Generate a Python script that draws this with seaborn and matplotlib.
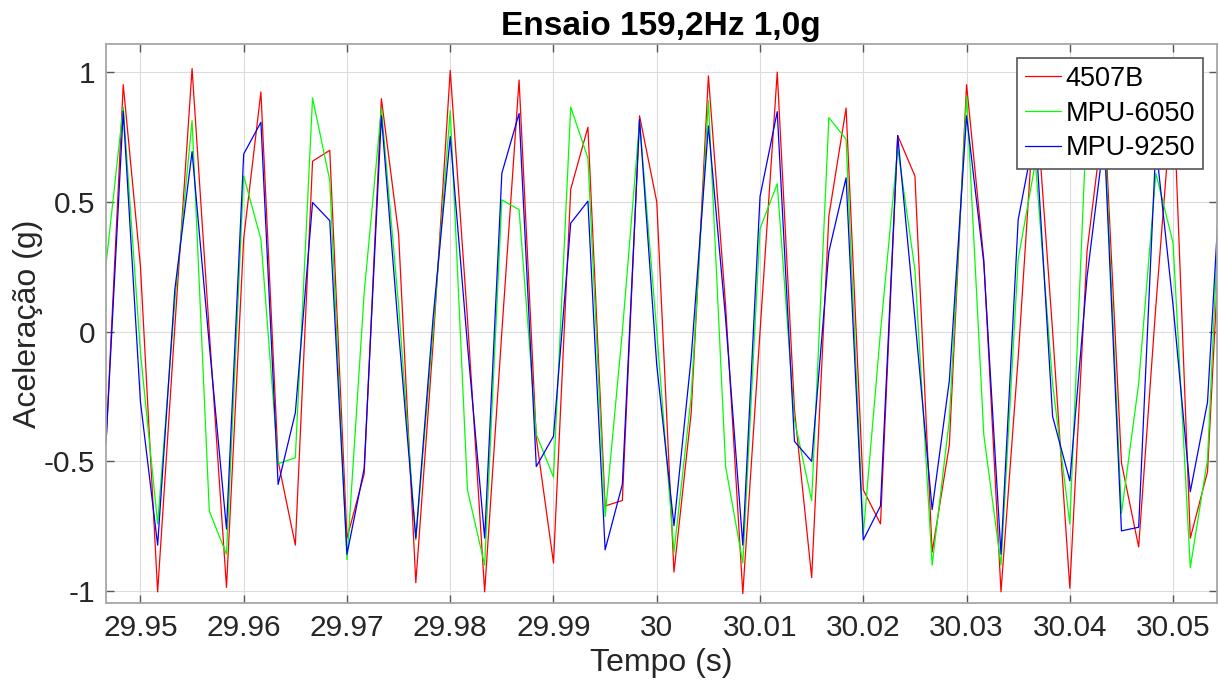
import numpy as np
import pandas as pd
import matplotlib
matplotlib.use("Agg")
import matplotlib.pyplot as plt
import seaborn as sns
from matplotlib.ticker import FuncFormatter

# Sample instants: acquisition at 600 Hz, sample numbers 17968..18033
sample_index = list(range(17968, 18034))
sample_rate = 600.0

acc_4507b = [
    -0.43, 0.952, 0.252, -1.003, 0.02, 1.014, 0.0, -0.986, 0.36, 0.924,
    -0.50, -0.823, 0.657, 0.699, -0.796, -0.548, 0.898, 0.377, -0.968, -0.05,
    1.007, 0.05, -1.003, 0.0, 0.97, -0.41, -0.892, 0.549, 0.788, -0.672,
    -0.651, 0.832, 0.5, -0.927, -0.313, 0.986, 0.1, -1.01, 0.0, 1.0,
    -0.3, -0.948, 0.446, 0.862, -0.61, -0.741, 0.756, 0.6, -0.85, -0.437,
    0.952, 0.28, -1.003, -0.1, 0.93, 0.0, -0.989, 0.31, 0.85, -0.506,
    -0.83, 0.1, 0.95, -0.796, -0.541, 0.75,
]
acc_mpu6050 = [
    0.259, 0.866, -0.08, -0.741, 0.12, 0.814, -0.692, -0.858, 0.6, 0.356,
    -0.509, -0.486, 0.901, 0.583, -0.879, 0.15, 0.86, 0.1, -0.803, 0.0,
    0.852, -0.61, -0.9, 0.508, 0.47, -0.396, -0.561, 0.866, 0.669, -0.713,
    0.0, 0.811, 0.0, -0.851, -0.25, 0.89, -0.52, -0.892, 0.397, 0.57,
    -0.34, -0.651, 0.825, 0.742, -0.78, 0.0, 0.708, 0.239, -0.9, -0.34,
    0.908, -0.396, -0.9, 0.28, 0.652, -0.2, -0.741, 0.85, 0.8, -0.7,
    -0.2, 0.61, 0.342, -0.909, -0.492, 0.95,
]
acc_mpu9250 = [
    -0.43, 0.85, -0.27, -0.823, 0.163, 0.694, -0.05, -0.761, 0.685, 0.807,
    -0.589, -0.313, 0.498, 0.428, -0.858, -0.527, 0.832, 0.0, -0.796, 0.05,
    0.752, -0.05, -0.796, 0.611, 0.841, -0.52, -0.403, 0.418, 0.503, -0.841,
    -0.589, 0.818, -0.13, -0.748, -0.1, 0.793, 0.05, -0.823, 0.521, 0.848,
    -0.423, -0.5, 0.308, 0.593, -0.803, -0.672, 0.756, 0.05, -0.686, -0.189,
    0.832, 0.266, -0.858, 0.432, 0.78, -0.327, -0.575, 0.21, 0.75, -0.768,
    -0.754, 0.72, 0.1, -0.617, -0.272, 0.9,
]

sensors = ["4507B", "MPU-6050", "MPU-9250"]
colors = {"4507B": "#ff0000", "MPU-6050": "#00ff00", "MPU-9250": "#0000ff"}

x_ticks = [29.95, 29.96, 29.97, 29.98, 29.99, 30.0, 30.01, 30.02, 30.03, 30.04, 30.05]
y_ticks = [-1, -0.5, 0, 0.5, 1]

t = [n / sample_rate for n in sample_index]
frames = []
for name, vals in zip(sensors, [acc_4507b, acc_mpu6050, acc_mpu9250]):
    frames.append(pd.DataFrame({"Tempo": t, "Aceleracao": vals, "Sensor": name}))
df = pd.concat(frames, ignore_index=True)

sns.set_theme(style="whitegrid")
plt.rcParams["font.family"] = ["Liberation Sans", "DejaVu Sans"]

fig = plt.figure(figsize=(12.19, 6.91), dpi=100)
ax = fig.add_axes([0.087, 0.127, 0.911, 0.809])

sns.lineplot(data=df, x="Tempo", y="Aceleracao", hue="Sensor", hue_order=sensors,
             palette=colors, estimator=None, sort=False, linewidth=0.9, ax=ax)

ax.set_xlim(29.94667, 30.05421)
ax.set_ylim(-1.047, 1.108)
ax.set_xticks(x_ticks)
ax.set_yticks(y_ticks)
fmt = FuncFormatter(lambda v, p: f"{round(v, 2):g}")
ax.xaxis.set_major_formatter(fmt)
ax.yaxis.set_major_formatter(fmt)

ax.grid(True, color="#dcdcdc", linewidth=0.8)
for s in ax.spines.values():
    s.set_color("#a6a6a6")
    s.set_linewidth(1.3)
ax.tick_params(axis="both", which="both", direction="in", length=6, width=1,
               color="#555555", labelsize=21.5, labelcolor="#262626",
               top=True, right=True, bottom=True, left=True, pad=8)

ax.set_xlabel("Tempo (s)", fontsize=23, color="#262626", labelpad=4)
ax.set_ylabel("Aceleração (g)", fontsize=23, color="#262626", labelpad=0)
ax.set_title("Ensaio 159,2Hz 1,0g", fontsize=24, fontweight="bold", color="black", pad=7)

leg = ax.legend(loc="upper right", fontsize=19.5, frameon=True, fancybox=False,
                borderaxespad=0.5, handlelength=1.35, handletextpad=0.15,
                labelspacing=0.32, borderpad=0.3)
leg.get_frame().set_edgecolor("#555555")
leg.get_frame().set_linewidth(1.2)
leg.get_frame().set_alpha(1.0)
for line in leg.get_lines():
    line.set_linewidth(0.9)
for txt in leg.get_texts():
    txt.set_color("black")

fig.savefig("out.png", dpi=100)
